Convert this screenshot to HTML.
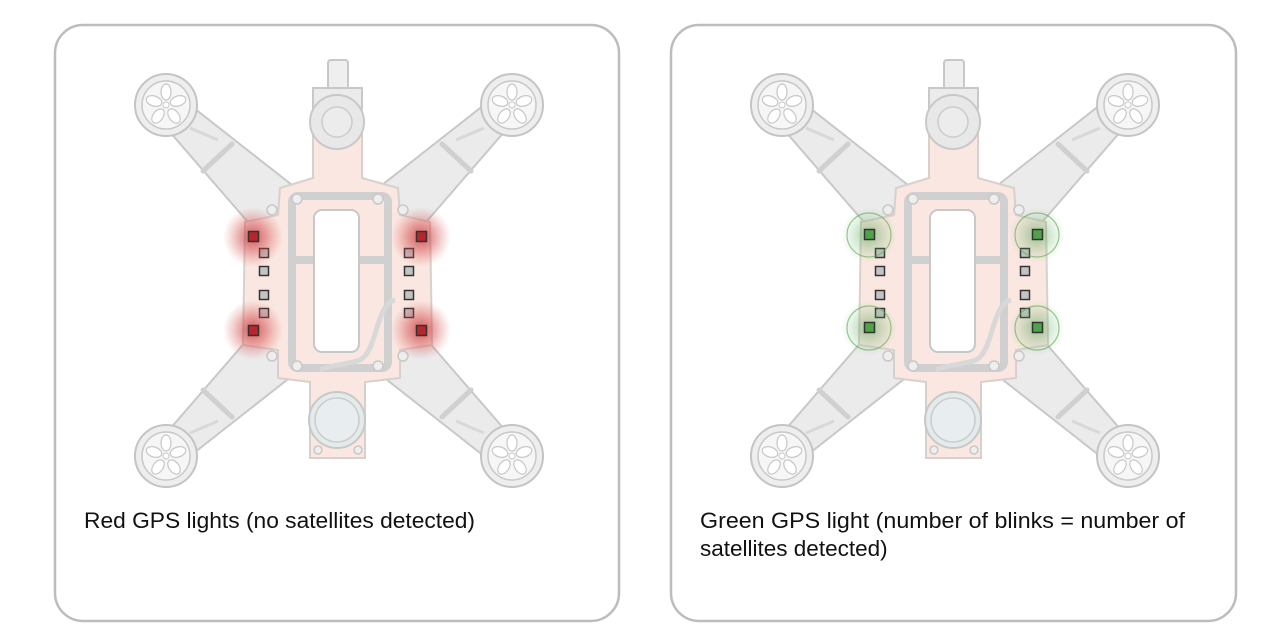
<!DOCTYPE html>
<html><head><meta charset="utf-8"><style>
html,body{margin:0;padding:0;background:#fff;}
svg{display:block;}
text{font-family:"Liberation Sans",sans-serif;font-size:22.5px;fill:#111;}
</style></head><body>
<svg width="1278" height="640" viewBox="0 0 1278 640" xmlns="http://www.w3.org/2000/svg">
<defs>
<radialGradient id="rg"><stop offset="0" stop-color="#c0262c" stop-opacity="0.75"/><stop offset="0.5" stop-color="#d04040" stop-opacity="0.4"/><stop offset="1" stop-color="#e06060" stop-opacity="0"/></radialGradient>
<radialGradient id="gg"><stop offset="0" stop-color="#3a9a3a" stop-opacity="0.5"/><stop offset="0.6" stop-color="#60b060" stop-opacity="0.2"/><stop offset="1" stop-color="#80c080" stop-opacity="0"/></radialGradient>
<g id="motor">
<circle r="31" fill="#eeeeee" stroke="#c4c4c4" stroke-width="2"/>
<circle r="24" fill="#f6f6f6" stroke="#c8c8c8" stroke-width="1.5"/>
<g fill="#fff" stroke="#c8c8c8" stroke-width="1.2">
<ellipse cx="0" cy="-13" rx="5" ry="8"/>
<ellipse cx="12" cy="-4" rx="5" ry="8" transform="rotate(72 12 -4)"/>
<ellipse cx="8" cy="11" rx="5" ry="8" transform="rotate(144 8 11)"/>
<ellipse cx="-8" cy="11" rx="5" ry="8" transform="rotate(216 -8 11)"/>
<ellipse cx="-12" cy="-4" rx="5" ry="8" transform="rotate(288 -12 -4)"/>
</g>
<circle r="3" fill="#fff" stroke="#c8c8c8"/>
</g>
<g id="arm">
<polygon points="176,94 156,116 260,236 306,196" fill="#ebebeb" stroke="#c8c8c8" stroke-width="2"/>
<line x1="190" y1="128" x2="218" y2="140" stroke="#d8d8d8" stroke-width="3"/>
<line x1="203" y1="171" x2="232" y2="144" stroke="#d0d0d0" stroke-width="5" stroke-linecap="round"/>
</g>
<g id="drone">
<use href="#arm"/>
<use href="#arm" transform="matrix(-1 0 0 1 674 0)"/>
<use href="#arm" transform="matrix(1 0 0 -1 0 561)"/>
<use href="#arm" transform="matrix(-1 0 0 -1 674 561)"/>
<path d="M313 90 L362 90 L362 178 L398 188 L400 215 L430 222 L432 345 L400 350 L400 378 L365 382 L365 458 L310 458 L310 382 L278 378 L278 350 L243 345 L245 222 L278 215 L280 188 L313 178 Z" fill="#fae7e1" stroke="#d8d0cc" stroke-width="2"/>
<rect x="328" y="60" width="20" height="32" rx="3" fill="#efefef" stroke="#c8c8c8" stroke-width="2"/>
<rect x="313" y="88" width="49" height="20" fill="#ebebeb" stroke="#c8c8c8" stroke-width="2"/>
<circle cx="337" cy="122" r="27" fill="#e8e8e8" stroke="#c8c8c8" stroke-width="2"/>
<circle cx="337" cy="122" r="15" fill="#ececec" stroke="#cccccc" stroke-width="1.5"/>
<circle cx="337" cy="420" r="28" fill="#e4ebec" stroke="#c8c8c8" stroke-width="2"/>
<circle cx="337" cy="420" r="22" fill="#e8eeef" stroke="#cccccc" stroke-width="1.5"/>
<rect x="292" y="196" width="96" height="172" rx="6" fill="none" stroke="#d0d0d0" stroke-width="8"/>
<line x1="290" y1="260" x2="388" y2="260" stroke="#d0d0d0" stroke-width="8"/>
<rect x="314" y="210" width="45" height="142" rx="8" fill="#fff" stroke="#c8c8c8" stroke-width="2"/>
<g fill="#eee" stroke="#c8c8c8" stroke-width="1.5">
<circle cx="297" cy="199" r="5"/><circle cx="378" cy="199" r="5"/><circle cx="297" cy="366" r="5"/><circle cx="378" cy="366" r="5"/>
<circle cx="272" cy="210" r="5"/><circle cx="272" cy="356" r="5"/><circle cx="403" cy="210" r="5"/><circle cx="403" cy="356" r="5"/>
<circle cx="318" cy="450" r="4"/><circle cx="358" cy="450" r="4"/>
</g>
<path d="M395 300 C375 305 378 350 360 360 C345 365 330 365 320 370" fill="none" stroke="#d8d8d8" stroke-width="5"/>
<g fill="#c4c4c4" stroke="#333" stroke-width="1.5">
<rect x="259.5" y="248.5" width="9" height="9"/><rect x="259.5" y="266.5" width="9" height="9"/>
<rect x="259.5" y="290.5" width="9" height="9"/><rect x="259.5" y="308.5" width="9" height="9"/>
<rect x="404.5" y="248.5" width="9" height="9"/><rect x="404.5" y="266.5" width="9" height="9"/>
<rect x="404.5" y="290.5" width="9" height="9"/><rect x="404.5" y="308.5" width="9" height="9"/>
</g>
<use href="#motor" x="166" y="105"/><use href="#motor" x="512" y="105"/>
<use href="#motor" x="166" y="456"/><use href="#motor" x="512" y="456"/>
</g>
</defs>

<rect x="55" y="25" width="564" height="596" rx="28" fill="#fff" stroke="#bdbdbd" stroke-width="2.5"/>
<rect x="671" y="25" width="565" height="596" rx="28" fill="#fff" stroke="#bdbdbd" stroke-width="2.5"/>

<use href="#drone"/>
<g fill="url(#rg)">
<circle cx="253" cy="237" r="30"/><circle cx="421" cy="237" r="30"/>
<circle cx="253" cy="330" r="30"/><circle cx="421" cy="330" r="30"/>
</g>
<g fill="#b8262c" stroke="#333" stroke-width="1.5">
<rect x="248.5" y="231.5" width="10" height="10"/><rect x="416.5" y="231.5" width="10" height="10"/>
<rect x="248.5" y="325.5" width="10" height="10"/><rect x="416.5" y="325.5" width="10" height="10"/>
</g>

<g transform="translate(616,0)">
<use href="#drone"/>
<g fill="url(#gg)">
<circle cx="253" cy="235" r="28"/><circle cx="421" cy="235" r="28"/>
<circle cx="253" cy="328" r="28"/><circle cx="421" cy="328" r="28"/>
</g>
<g fill="none" stroke="#5aaa4a" stroke-width="1.2" opacity="0.6">
<circle cx="253" cy="235" r="22"/><circle cx="421" cy="235" r="22"/>
<circle cx="253" cy="328" r="22"/><circle cx="421" cy="328" r="22"/>
</g>
<g fill="#4ea24a" stroke="#333" stroke-width="1.5">
<rect x="248.5" y="229.5" width="10" height="10"/><rect x="416.5" y="229.5" width="10" height="10"/>
<rect x="248.5" y="322.5" width="10" height="10"/><rect x="416.5" y="322.5" width="10" height="10"/>
</g>
</g>

<text x="84" y="528" textLength="391" lengthAdjust="spacingAndGlyphs">Red GPS lights (no satellites detected)</text>
<text x="700" y="528" textLength="485" lengthAdjust="spacingAndGlyphs">Green GPS light (number of blinks = number of</text>
<text x="700" y="556">satellites detected)</text>
</svg>
</body></html>
